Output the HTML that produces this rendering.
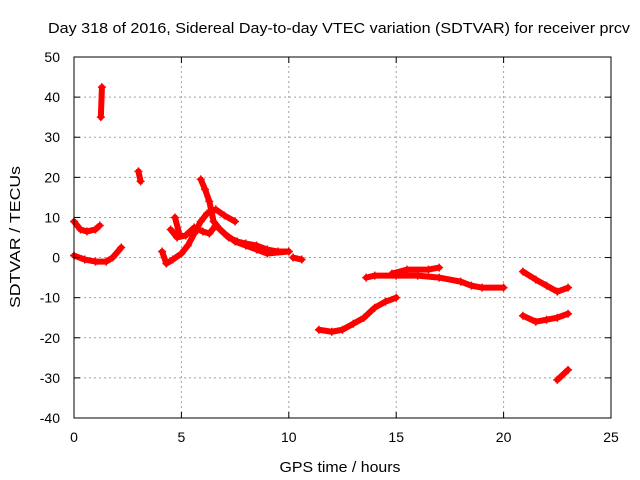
<!DOCTYPE html>
<html><head><meta charset="utf-8"><style>
body{margin:0;background:#fff}
svg{display:block;font-family:"Liberation Sans",sans-serif}
</style></head><body>
<svg id="chart" width="640" height="480" viewBox="0 0 640 480">
<text x="339" y="33" text-anchor="middle" font-size="15" textLength="582" lengthAdjust="spacingAndGlyphs" fill="#000">Day 318 of 2016, Sidereal Day-to-day VTEC variation (SDTVAR) for receiver prcv</text>
<g id="grid"></g>
<g id="series"></g>
<rect x="74" y="57" width="537" height="361" fill="none" stroke="#000" stroke-width="1"/>
<g id="axes"></g>
<text x="340" y="472" text-anchor="middle" font-size="15" textLength="121" lengthAdjust="spacingAndGlyphs">GPS time / hours</text>
<text transform="translate(20,237) rotate(-90)" text-anchor="middle" font-size="15" textLength="142" lengthAdjust="spacingAndGlyphs">SDTVAR / TECUs</text>
</svg>
<script>
const xTicks=[0,5,10,15,20,25];
const yTicks=[-40,-30,-20,-10,0,10,20,30,40,50];
const trackA=[[0,9],[0.3,7],[0.6,6.5],[1.0,7],[1.2,8]];
const trackB=[[0,0.5],[0.5,-0.5],[1.0,-1],[1.5,-1],[1.8,0],[2.2,2.5]];
const trackC=[[1.25,35],[1.3,42.5]];
const trackD=[[3.0,21.5],[3.1,19]];
const trackE=[[4.1,1.5],[4.3,-1.5],[4.6,-0.5],[5.0,1],[5.3,3],[5.6,6],[5.9,9],[6.2,11],[6.6,12],[7.0,10.5],[7.5,9]];
const trackF=[[5.9,19.5],[6.1,17],[6.3,14],[6.5,9],[6.8,7],[7.2,5],[7.6,4],[8.0,3.5],[8.5,3],[9.0,2],[9.5,1.5],[10.0,1.5]];
const trackG=[[4.5,7],[4.8,5],[5.2,5.5],[5.6,7.5],[6.0,6.5],[6.3,6],[6.6,8],[7.0,6],[7.5,4],[8.0,3],[8.5,2],[9.0,1],[10,1.5]];
const trackH=[[4.7,10],[4.9,6]];
const trackI=[[10.2,0],[10.6,-0.5]];
const trackJ=[[11.4,-18],[12,-18.5],[12.5,-18],[13,-16.5],[13.5,-15],[14,-12.5],[14.5,-11],[15,-10]];
const trackK=[[13.6,-5],[14,-4.5],[15,-4.5],[16,-4.5],[17,-5],[18,-6],[18.5,-7],[19,-7.5],[20,-7.5]];
const trackL=[[14.8,-4],[15.5,-3],[16.5,-3],[17,-2.5]];
const trackM=[[20.9,-3.5],[21.5,-5.5],[22,-7],[22.5,-8.5],[23,-7.5]];
const trackN=[[20.9,-14.5],[21.5,-16],[22,-15.5],[22.5,-15],[23,-14]];
const trackO=[[22.5,-30.5],[23,-28]];
const tracks=[trackA,trackB,trackC,trackD,trackE,trackF,trackG,trackH,trackI,trackJ,trackK,trackL,trackM,trackN,trackO];

const X0=74,X1=611,Y0=418,Y1=57;
const xs=v=>X0+(v-0)/(25-0)*(X1-X0);
const ys=v=>Y0-(v+40)/(90)*(Y0-Y1);
const NS="http://www.w3.org/2000/svg";
const grid=document.getElementById('grid'),axes=document.getElementById('axes'),ser=document.getElementById('series');
function mk(t,a){const e=document.createElementNS(NS,t);for(const k in a)e.setAttribute(k,a[k]);return e;}
xTicks.forEach(t=>{const x=xs(t);
 if(t>0&&t<25){const g=mk('line',{x1:x,x2:x,y1:Y0,y2:Y1,stroke:'#a0a0a0','stroke-dasharray':'2,3'});
 
 grid.appendChild(g);}
 const tk=mk('line',{x1:x,x2:x,y1:Y0,y2:Y0-6,stroke:'#000'});
 
 axes.appendChild(tk);
 const tk2=mk('line',{x1:x,x2:x,y1:Y1,y2:Y1+6,stroke:'#000'});
 
 axes.appendChild(tk2);
 const l=mk('text',{x:x,y:Y0+24,'text-anchor':'middle','font-size':14});l.textContent=t;
 
 axes.appendChild(l);});
yTicks.forEach(t=>{const y=ys(t);
 if(t>-40&&t<50){const g=mk('line',{x1:X0,x2:X1,y1:y,y2:y,stroke:'#a0a0a0','stroke-dasharray':'2,3'});
 
 grid.appendChild(g);}
 const tk=mk('line',{x1:X0,x2:X0+6,y1:y,y2:y,stroke:'#000'});
 
 axes.appendChild(tk);
 const tk2=mk('line',{x1:X1,x2:X1-6,y1:y,y2:y,stroke:'#000'});
 
 axes.appendChild(tk2);
 const l=mk('text',{x:X0-14,y:y+5,'text-anchor':'end','font-size':14});l.textContent=t;
 
 axes.appendChild(l);});
tracks.forEach(tr=>{
 const p=mk('polyline',{points:tr.map(d=>xs(d[0])+','+ys(d[1])).join(' '),fill:'none',stroke:'#f00','stroke-width':6,'stroke-linejoin':'round','stroke-linecap':'round'});
 
 ser.appendChild(p);
 tr.forEach(d=>{const x=xs(d[0]),y=ys(d[1]);
  const m=mk('path',{d:`M${x-4},${y}H${x+4}M${x},${y-4}V${y+4}`,stroke:'#f00','stroke-width':1.5});
  
  ser.appendChild(m);});
});
</script>
</body></html>
